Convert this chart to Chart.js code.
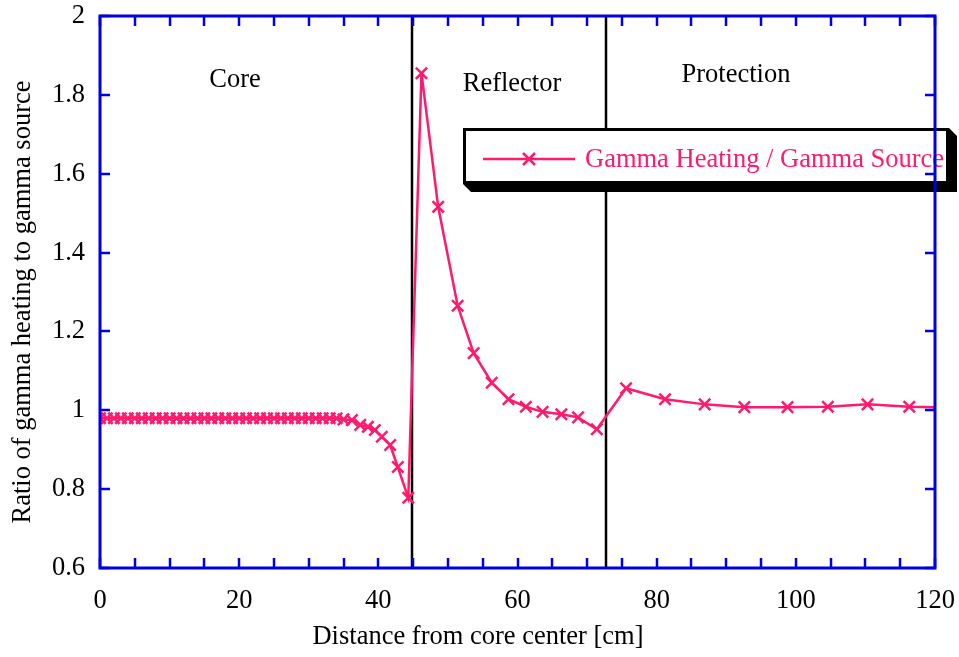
<!DOCTYPE html>
<html>
<head>
<meta charset="utf-8">
<script src="https://cdn.jsdelivr.net/npm/chart.js@4.4.1/dist/chart.umd.min.js"></script>
<style>
  html, body { margin: 0; padding: 0; background: #fff; }
  #wrap { width: 959px; height: 657px; }
</style>
</head>
<body>
<div id="wrap"><canvas id="gammaChart" width="959" height="657"></canvas></div>
<script>
// distance from core center [cm]
const distance = [
    0, 1, 2, 3, 4, 5, 6, 7, 8, 9, 10, 11, 12, 13, 14, 15, 16, 17,
    18, 19, 20, 21, 22, 23, 24, 25, 26, 27, 28, 29, 30, 31, 32, 33, 34, 35,
    36.2, 37.4, 38.5, 39.5, 40.5, 41.7, 42.8, 44.3,
    46.2, 48.6, 51.4, 53.7, 56.3, 58.7, 61.2, 63.6, 66.3, 68.7, 71.4,
    75.6, 81.2, 86.9, 92.6, 98.8, 104.6, 110.3, 116.3, 122.0
];

// gamma heating / gamma source
const ratio = [
    0.98, 0.98, 0.98, 0.98, 0.98, 0.98, 0.98, 0.98, 0.98, 0.98, 0.98, 0.98, 0.98, 0.98, 0.98, 0.98, 0.98, 0.98,
    0.98, 0.98, 0.98, 0.98, 0.98, 0.98, 0.98, 0.98, 0.98, 0.98, 0.98, 0.98, 0.98, 0.98, 0.98, 0.98, 0.98, 0.977,
    0.975, 0.963, 0.958, 0.95, 0.933, 0.912, 0.856, 0.778,
    1.855, 1.516, 1.265, 1.145, 1.07, 1.028, 1.009, 0.996, 0.99, 0.982, 0.952,
    1.056, 1.028, 1.015, 1.008, 1.008, 1.009, 1.015, 1.009, 1.007
];

// region boundaries [cm] and names
const boundaries = [44.8, 72.7];
const regions = ['Core', 'Reflector', 'Protection'];

const seriesLabel = 'Gamma Heating / Gamma Source';
const xTitle = 'Distance from core center [cm]';
const yTitle = 'Ratio of gamma heating to gamma source';

const PINK = '#ff1a6e';
const BLUE = '#0000e8';
const FONT = "'Liberation Serif', 'Times New Roman', serif";
const FSIZE = 26.5;

const points = distance.map((d, i) => ({ x: d, y: ratio[i] }));

const framePlugin = {
    id: 'frame',
    beforeDatasetsDraw(chart) {
        const { ctx, chartArea: a, scales } = chart;
        ctx.save();
        ctx.strokeStyle = '#000';
        ctx.lineWidth = 2.5;
        boundaries.forEach(b => {
            const px = Math.round(scales.x.getPixelForValue(b));
            ctx.beginPath();
            ctx.moveTo(px, a.top);
            ctx.lineTo(px, a.bottom);
            ctx.stroke();
        });
        // region names
        ctx.fillStyle = '#000';
        ctx.font = FSIZE + 'px ' + FONT;
        ctx.textAlign = 'center';
        ctx.textBaseline = 'alphabetic';
        ctx.fillText(regions[0], 235, 87);
        ctx.fillText(regions[1], 512, 91);
        ctx.fillText(regions[2], 736, 82);
        ctx.restore();
    },
    afterDatasetsDraw(chart) {
        const { ctx, chartArea: a, scales } = chart;
        const xs = scales.x, ys = scales.y;
        ctx.save();

        // legend box with drop shadow
        const bx = 463, by = 128, bw = 486, bh = 56, sh = 8;
        ctx.fillStyle = '#000';
        ctx.beginPath();
        ctx.moveTo(bx, by + bh);
        ctx.lineTo(bx + sh, by + bh + sh);
        ctx.lineTo(bx + bw + sh, by + bh + sh);
        ctx.lineTo(bx + bw + sh, by + sh);
        ctx.lineTo(bx + bw, by);
        ctx.closePath();
        ctx.fill();
        ctx.fillStyle = '#fff';
        ctx.fillRect(bx, by, bw, bh);
        ctx.strokeStyle = '#000';
        ctx.lineWidth = 3;
        ctx.strokeRect(bx + 1.5, by + 1.5, bw - 3, bh - 3);

        ctx.strokeStyle = PINK;
        ctx.lineWidth = 2.5;
        ctx.beginPath();
        ctx.moveTo(483, 159);
        ctx.lineTo(575, 159);
        ctx.stroke();
        ctx.beginPath();
        ctx.moveTo(523, 153); ctx.lineTo(535, 165);
        ctx.moveTo(535, 153); ctx.lineTo(523, 165);
        ctx.stroke();
        ctx.fillStyle = PINK;
        ctx.font = FSIZE + 'px ' + FONT;
        ctx.textAlign = 'left';
        ctx.textBaseline = 'alphabetic';
        ctx.fillText(seriesLabel, 585, 167);

        // inward ticks on all four sides
        ctx.strokeStyle = BLUE;
        ctx.lineWidth = 2.5;
        const tl = 10;
        ctx.beginPath();
        for (let v = xs.min; v <= xs.max; v += 5) {
            const px = Math.round(xs.getPixelForValue(v));
            ctx.moveTo(px, a.bottom); ctx.lineTo(px, a.bottom - tl);
            ctx.moveTo(px, a.top); ctx.lineTo(px, a.top + tl);
        }
        ys.ticks.forEach(t => {
            const py = Math.round(ys.getPixelForValue(t.value));
            ctx.moveTo(a.left, py); ctx.lineTo(a.left + tl, py);
            ctx.moveTo(a.right, py); ctx.lineTo(a.right - tl, py);
        });
        ctx.stroke();

        // plot frame
        ctx.lineWidth = 3;
        ctx.strokeRect(a.left, a.top, a.right - a.left, a.bottom - a.top);

        // axis titles
        ctx.fillStyle = '#000';
        ctx.font = FSIZE + 'px ' + FONT;
        ctx.textAlign = 'center';
        ctx.textBaseline = 'middle';
        ctx.fillText(xTitle, 478, 637);
        ctx.translate(23, 302);
        ctx.rotate(-Math.PI / 2);
        ctx.fillText(yTitle, 0, 0);
        ctx.restore();
    }
};

new Chart(document.getElementById('gammaChart'), {
    type: 'line',
    data: {
        datasets: [{
            label: seriesLabel,
            data: points,
            borderColor: PINK,
            backgroundColor: PINK,
            borderWidth: 2.5,
            pointStyle: 'crossRot',
            pointRadius: 8,
            pointBorderWidth: 2.5,
            pointHoverRadius: 8,
            tension: 0,
            fill: false,
            clip: 0
        }]
    },
    options: {
        responsive: false,
        animation: false,
        layout: { padding: { top: 16, right: 24, left: 0, bottom: 0 } },
        plugins: {
            legend: { display: false },
            tooltip: { enabled: false }
        },
        scales: {
            x: {
                type: 'linear',
                min: 0,
                max: 120,
                ticks: {
                    stepSize: 20,
                    padding: 17,
                    color: '#000',
                    font: { family: FONT, size: FSIZE },
                    maxRotation: 0
                },
                grid: { display: false, drawTicks: false },
                border: { display: false },
                afterFit(scale) {
                    scale.height = 89;
                    scale.paddingLeft = 0;
                    scale.paddingRight = 0;
                }
            },
            y: {
                type: 'linear',
                min: 0.6,
                max: 2,
                ticks: {
                    stepSize: 0.2,
                    padding: 15,
                    color: '#000',
                    font: { family: FONT, size: FSIZE },
                    callback: v => String(Number(v.toFixed(1)))
                },
                grid: { display: false, drawTicks: false },
                border: { display: false },
                afterFit(scale) {
                    scale.width = 100;
                    scale.paddingTop = 0;
                    scale.paddingBottom = 0;
                }
            }
        }
    },
    plugins: [framePlugin]
});
</script>
</body>
</html>
